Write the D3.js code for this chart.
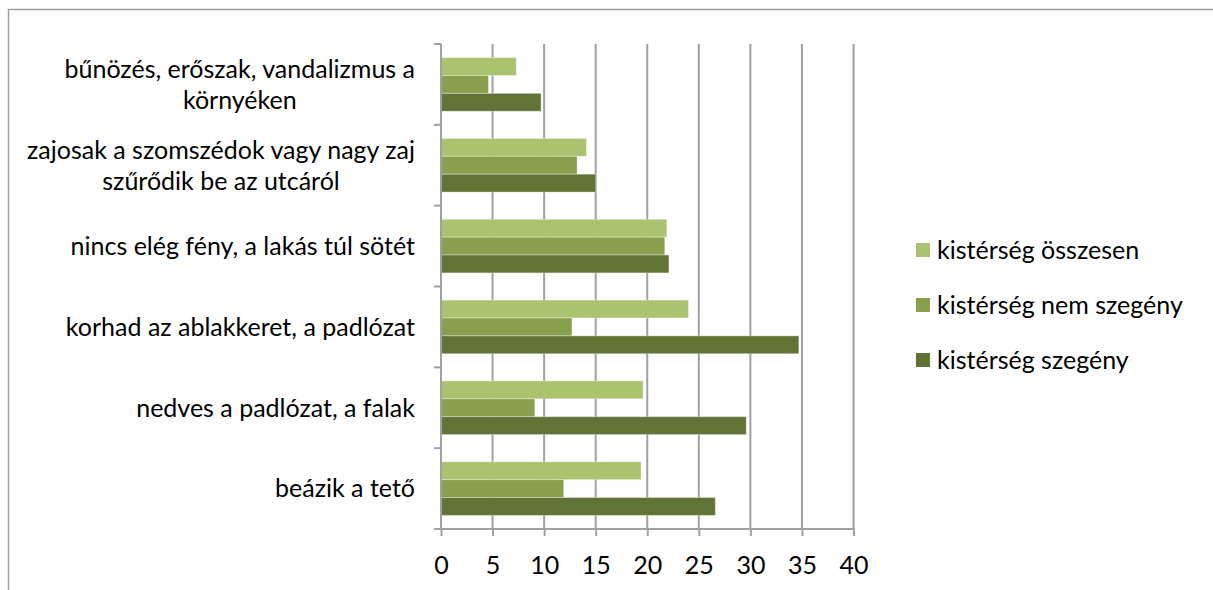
<!DOCTYPE html>
<html>
<head>
<meta charset="utf-8">
<script src="https://cdn.jsdelivr.net/npm/d3@7"></script>
<style>
  body { margin: 0; background: #fff; }
  svg { display: block; font-family: Lato, "Open Sans", sans-serif; }
</style>
</head>
<body>
<div id="chart"></div>
<script>
// categories top to bottom, each as its label lines
const categories = [
    ['bűnözés, erőszak, vandalizmus a', 'környéken'],
    ['zajosak a szomszédok vagy nagy zaj', 'szűrődik be az utcáról'],
    ['nincs elég fény, a lakás túl sötét'],
    ['korhad az ablakkeret, a padlózat'],
    ['nedves a padlózat, a falak'],
    ['beázik a tető']
];
const seriesNames = ['kistérség összesen', 'kistérség nem szegény', 'kistérség szegény'];
const osszesen = [7.3, 14.1, 21.9, 24.0, 19.6, 19.4];
const nemSzegeny = [4.6, 13.2, 21.7, 12.7, 9.1, 11.9];
const szegeny = [9.7, 15.0, 22.1, 34.7, 29.6, 26.6];
const xTicks = [0, 5, 10, 15, 20, 25, 30, 35, 40];

const seriesValues = [osszesen, nemSzegeny, szegeny];
const colors = ['#abc36e', '#8a9f4e', '#617335'];

const W = 1213, H = 590;
const margin = { top: 44, left: 441, right: 360, bottom: 61 };
const fontSize = '25px';

const svg = d3.select('#chart').append('svg')
    .attr('width', W)
    .attr('height', H);

// outer chart border
svg.append('rect')
    .attr('x', 8.5).attr('y', 9.5)
    .attr('width', W + 10).attr('height', H + 10)
    .attr('fill', 'none')
    .attr('stroke', '#a0a0a0')
    .attr('stroke-width', 1.5);

const x = d3.scaleLinear().domain([0, 40]).range([margin.left, W - margin.right + 0.5]);
const catIdx = d3.range(categories.length);
const y0 = d3.scaleBand().domain(catIdx).range([margin.top, H - margin.bottom]);
const y1 = d3.scaleBand().domain(d3.range(seriesNames.length))
    .range([0, y0.bandwidth()])
    .paddingInner(0).paddingOuter(0.76);

// gridlines + x axis ticks
const xAxis = d3.axisBottom(x).tickValues(xTicks).tickSize(7).tickFormat(d3.format('d'));
svg.append('g')
    .attr('class', 'grid')
    .selectAll('line')
    .data(xTicks.filter(d => d > 0))
    .join('line')
    .attr('x1', d => x(d)).attr('x2', d => x(d))
    .attr('y1', margin.top).attr('y2', H - margin.bottom)
    .attr('stroke', '#a0a0a0')
    .attr('stroke-width', 2);

const xAxisG = svg.append('g')
    .attr('transform', `translate(0,${H - margin.bottom})`)
    .call(xAxis);
xAxisG.select('.domain').remove();
xAxisG.selectAll('line').attr('stroke', '#a0a0a0').attr('stroke-width', 2);
xAxisG.selectAll('text')
    .attr('y', 36)
    .attr('dy', '0.35em')
    .style('font-size', fontSize)
    .style('fill', '#000')
    .style('font-family', 'Lato, sans-serif');

// horizontal base line along bottom
svg.append('line')
    .attr('x1', margin.left - 7).attr('x2', x(40) + 1)
    .attr('y1', H - margin.bottom).attr('y2', H - margin.bottom)
    .attr('stroke', '#a0a0a0').attr('stroke-width', 2);

// bars
const groups = svg.append('g').selectAll('g')
    .data(catIdx)
    .join('g')
    .attr('transform', i => `translate(0,${y0(i)})`);

groups.selectAll('rect')
    .data(i => seriesValues.map((vals, s) => ({ s, v: vals[i] })))
    .join('rect')
    .attr('x', x(0))
    .attr('y', d => y1(d.s))
    .attr('width', d => x(d.v) - x(0))
    .attr('height', y1.bandwidth())
    .attr('fill', d => colors[d.s])
    .attr('stroke', 'rgba(255,255,255,0.35)')
    .attr('stroke-width', 1);

// y axis line + ticks at category boundaries
svg.append('line')
    .attr('x1', x(0)).attr('x2', x(0))
    .attr('y1', margin.top).attr('y2', H - margin.bottom)
    .attr('stroke', '#a0a0a0').attr('stroke-width', 2);
const boundaries = catIdx.map(i => y0(i)).concat([H - margin.bottom]);
svg.append('g').selectAll('line')
    .data(boundaries)
    .join('line')
    .attr('x1', x(0) - 7).attr('x2', x(0))
    .attr('y1', d => d).attr('y2', d => d)
    .attr('stroke', '#a0a0a0').attr('stroke-width', 2);

// category labels: centered lines, block right-aligned at 415
const labelRight = 415;
const lineH = 31;
catIdx.forEach(i => {
    const lines = categories[i];
    const cy = y0(i) + y0.bandwidth() / 2;
    const t = svg.append('text')
        .style('font-size', fontSize)
        .attr('fill', '#000');
    lines.forEach((ln, k) => {
        t.append('tspan')
            .attr('y', cy + (k - (lines.length - 1) / 2) * lineH)
            .attr('dy', '0.35em')
            .text(ln);
    });
    // center each line within the widest one, then push the block right
    const widths = t.selectAll('tspan').nodes().map(n => n.getComputedTextLength());
    const maxW = d3.max(widths);
    t.selectAll('tspan')
        .attr('text-anchor', 'middle')
        .attr('x', labelRight - maxW / 2);
});

// legend
const legend = svg.append('g').attr('transform', 'translate(916,250)');
seriesNames.forEach((name, s) => {
    const g = legend.append('g').attr('transform', `translate(0,${s * 55})`);
    g.append('rect')
        .attr('x', 0).attr('y', -7)
        .attr('width', 14).attr('height', 14)
        .attr('fill', colors[s]);
    g.append('text')
        .attr('x', 21).attr('y', 0)
        .attr('dy', '0.35em')
        .style('font-size', fontSize)
        .attr('fill', '#000')
        .text(name);
});
</script>
</body>
</html>
